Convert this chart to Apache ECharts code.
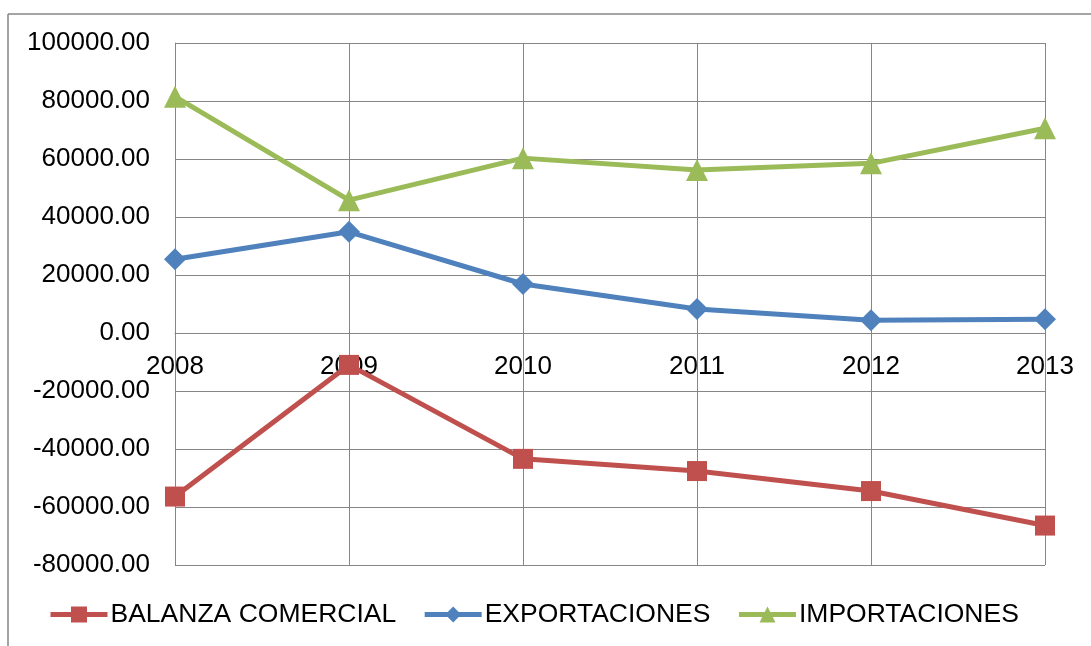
<!DOCTYPE html>
<html>
<head>
<meta charset="utf-8">
<script src="https://cdn.jsdelivr.net/npm/echarts@6/dist/echarts.min.js"></script>
<style>
  html, body { margin: 0; padding: 0; background: #fff; }
  #myChart { width: 1091px; height: 646px; }
</style>
</head>
<body>
<div id="myChart"></div>
<script>
var years = ['2008', '2009', '2010', '2011', '2012', '2013'];
var balanza = [-56400, -11000, -43400, -47600, -54500, -66400];
var exportaciones = [25400, 34900, 16900, 8300, 4400, 4700];
var importaciones = [81500, 45800, 60300, 56200, 58500, 70600];
var seriesNames = ['BALANZA COMERCIAL', 'EXPORTACIONES', 'IMPORTACIONES'];

var gridColor = '#868686';
var font = 'Liberation Sans, Arial, sans-serif';

var myChart = echarts.init(document.getElementById('myChart'));
var option = {
  animation: false,
  color: ['#C0504D', '#4F81BD', '#9BBB59'],
  graphic: [
    { type: 'line', shape: { x1: 8, y1: 14, x2: 1091, y2: 14 }, style: { stroke: gridColor, lineWidth: 1.5 } },
    { type: 'line', shape: { x1: 8, y1: 14, x2: 8, y2: 646 }, style: { stroke: gridColor, lineWidth: 1.5 } }
  ],
  legend: {
    data: seriesNames,
    left: 48,
    top: 601,
    padding: 0,
    itemWidth: 57,
    itemHeight: 20,
    itemGap: 26,
    lineStyle: { width: 5 },
    textStyle: { fontSize: 26.5, color: '#000', fontFamily: font, padding: [0, 0, 0, -2] }
  },
  grid: { left: 175, right: 46, top: 43, bottom: 81, containLabel: false },
  xAxis: {
    type: 'category',
    boundaryGap: false,
    data: years,
    axisLine: { onZero: true, lineStyle: { color: gridColor, width: 1 } },
    axisTick: { show: false },
    // labels sit just under the zero line, as in the reference
    axisLabel: { fontSize: 26, color: '#000', fontFamily: font, margin: -211 },
    splitLine: { show: true, lineStyle: { color: gridColor, width: 1 } }
  },
  yAxis: {
    type: 'value',
    min: -80000,
    max: 100000,
    interval: 20000,
    axisLine: { show: true, lineStyle: { color: gridColor, width: 1 } },
    axisTick: { show: false },
    axisLabel: {
      fontSize: 26, color: '#000', fontFamily: font, margin: 25,
      formatter: function (v) { return v.toFixed(2); }
    },
    splitLine: { show: true, lineStyle: { color: gridColor, width: 1 } }
  },
  series: [
    { name: seriesNames[0], type: 'line', data: balanza, symbol: 'rect', symbolSize: 20,
      lineStyle: { width: 5 } },
    { name: seriesNames[1], type: 'line', data: exportaciones, symbol: 'diamond', symbolSize: 22,
      lineStyle: { width: 5 } },
    { name: seriesNames[2], type: 'line', data: importaciones, symbol: 'triangle', symbolSize: 22,
      lineStyle: { width: 5 } }
  ]
};
myChart.setOption(option);
</script>
</body>
</html>
